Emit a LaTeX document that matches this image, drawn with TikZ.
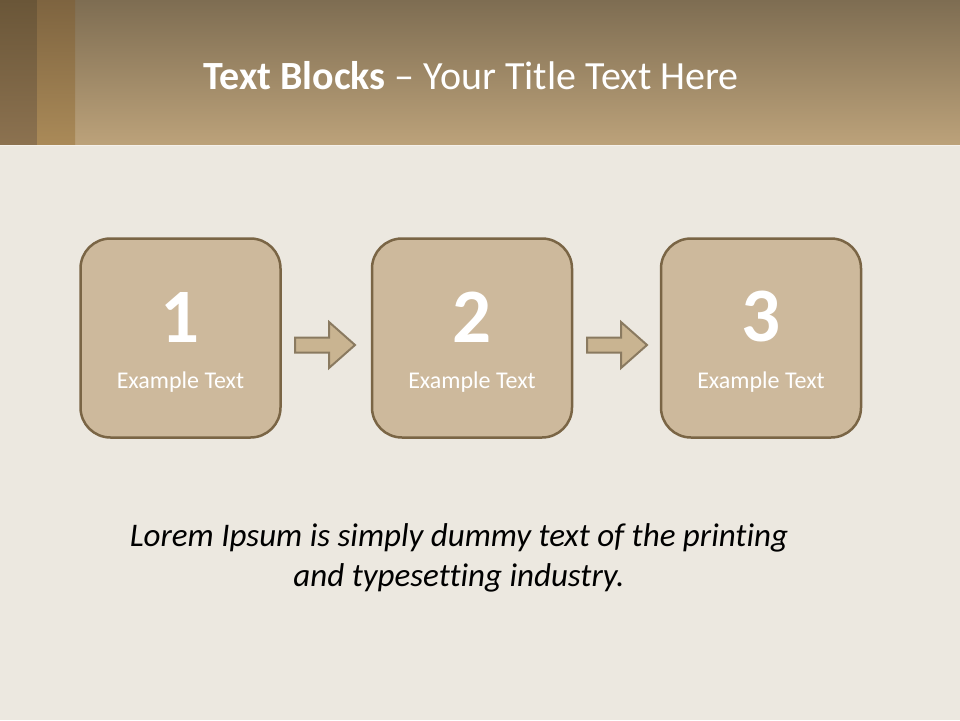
\documentclass[tikz,border=0pt]{standalone}
\usepackage{fontspec}
\setmainfont[Ligatures=NoCommon]{Carlito}
\definecolor{paper}{HTML}{ECE8E0}
\definecolor{hdtop}{HTML}{7E6D52}
\definecolor{hdbot}{HTML}{BCA27A}
\definecolor{stripAtop}{HTML}{6A5638}
\definecolor{stripAbot}{HTML}{8C7250}
\definecolor{stripBtop}{HTML}{7E6440}
\definecolor{stripBbot}{HTML}{AA8A58}
\definecolor{boxfill}{HTML}{CDB99C}
\definecolor{boxline}{HTML}{7A6545}
\definecolor{arrfill}{HTML}{C9B491}
\definecolor{arrline}{HTML}{8A7A60}
\tikzset{
  stepbox/.style={draw=boxline, line width=2.5pt, fill=boxfill, rounded corners=30pt,
    minimum width=200pt, minimum height=199pt, inner sep=0pt},
  numtext/.style={text=white, font=\fontsize{77}{77}\selectfont\bfseries, inner sep=0pt},
  labtext/.style={text=white, font=\fontsize{24}{28}\selectfont, inner sep=0pt},
  flowarrow/.style={draw=arrline, line width=2pt, fill=arrfill, line join=miter},
}
\begin{document}
\begin{tikzpicture}[x=1pt,y=-1pt]
\useasboundingbox (0,0) rectangle (960,720);
\fill[paper] (0,0) rectangle (960,720);
\shade[top color=hdtop, bottom color=hdbot] (0,0) rectangle (960,145);
\shade[top color=stripAtop, bottom color=stripAbot] (0,0) rectangle (37,145);
\shade[top color=stripBtop, bottom color=stripBbot] (37,0) rectangle (75,145);
\draw[white!85!hdbot, line width=1pt] (0,145.5) -- (960,145.5);
\node[text=white, font=\fontsize{40}{46}\selectfont] (title) at (471,76)
  {\textbf{Text Blocks} – Your Title Text Here};

\node[stepbox] (b1) at (180.5,338) {};
\node[stepbox] (b2) at (472,338) {};
\node[stepbox] (b3) at (761,338) {};
\node[numtext] (n1) at (180.5,317) {1};
\node[numtext] (n2) at (472,317) {2};
\node[numtext] (n3) at (761,317) {3};
\node[labtext] (l1) at (180.5,382) {Example Text};
\node[labtext] (l2) at (472,382) {Example Text};
\node[labtext] (l3) at (761,382) {Example Text};

\foreach \x in {295,587}{
  \draw[flowarrow] (\x,337.5) -- (\x+34,337.5) -- (\x+34,322) -- (\x+60,345)
    -- (\x+34,368) -- (\x+34,352.5) -- (\x,352.5) -- cycle;
}

\node[font=\fontsize{33}{40}\selectfont\itshape, align=center] (lorem) at (459,558)
  {Lorem Ipsum is simply dummy text of the printing\\and typesetting industry.};
\end{tikzpicture}
\end{document}
